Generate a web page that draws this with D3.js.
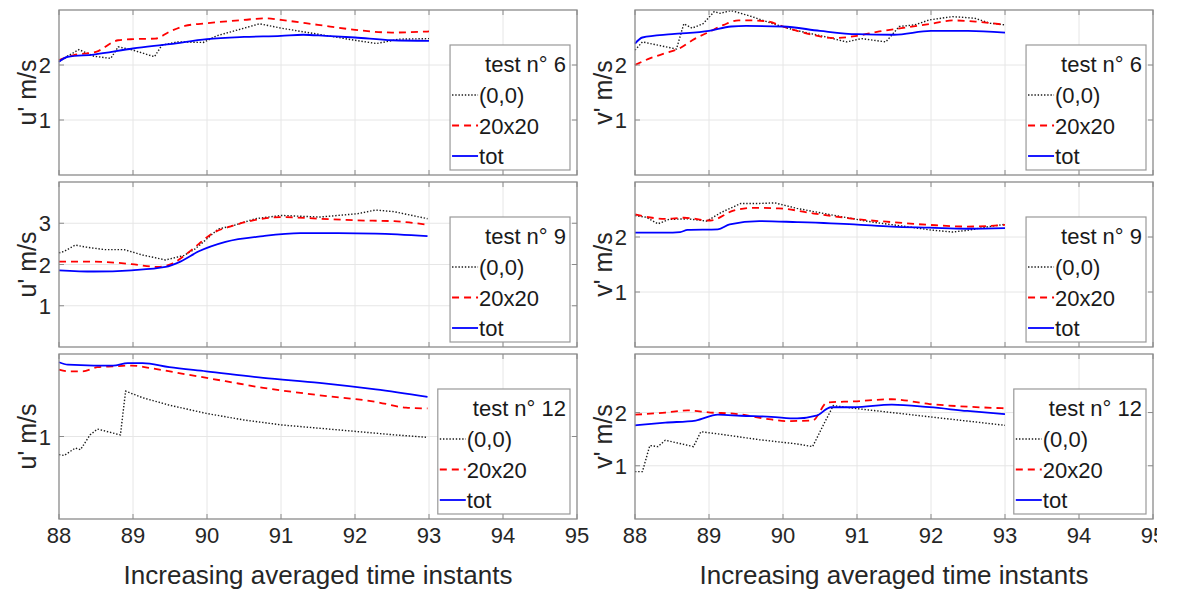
<!DOCTYPE html>
<html>
<head>
<meta charset="utf-8">
<script src="https://cdnjs.cloudflare.com/ajax/libs/d3/7.8.5/d3.min.js"></script>
<style>
    body { margin: 0; background: #fff; }
    svg { display: block; overflow: hidden; font-family: "Liberation Sans", Arial, Helvetica, sans-serif; }
</style>
</head>
<body>
<div id="chart"></div>
<script>
// ---- data: [time instant, value] ----

// test 6
const u6_00 = [[88,2.06],[88.1,2.15],[88.27,2.28],[88.47,2.16],[88.7,2.12],[88.8,2.33],[89,2.27],[89.29,2.15],[89.39,2.36],[89.6,2.42],[89.95,2.41],[90.13,2.53],[90.5,2.67],[90.71,2.75],[91,2.67],[91.5,2.56],[92,2.45],[92.29,2.39],[92.6,2.47],[93,2.48]];
const u6_20 = [[88,2.09],[88.2,2.18],[88.5,2.24],[88.8,2.45],[89,2.47],[89.3,2.48],[89.5,2.61],[89.7,2.71],[90,2.76],[90.5,2.82],[90.8,2.85],[91,2.82],[91.5,2.73],[92,2.64],[92.5,2.59],[93,2.61]];
const u6_tot = [[88,2.06],[88.12,2.15],[88.47,2.19],[89,2.30],[89.5,2.38],[90,2.47],[90.5,2.51],[91,2.53],[91.3,2.55],[91.6,2.53],[92,2.50],[92.5,2.45],[93,2.44]];

const v6_00 = [[88,2.27],[88.1,2.42],[88.56,2.29],[88.66,2.75],[88.77,2.67],[88.92,2.75],[89.07,2.97],[89.15,2.94],[89.3,2.99],[89.58,2.88],[89.84,2.76],[90.14,2.64],[90.55,2.52],[90.86,2.42],[91.06,2.48],[91.39,2.42],[91.57,2.70],[91.78,2.73],[91.98,2.82],[92.29,2.88],[92.59,2.85],[92.8,2.76],[93,2.73]];
const v6_20 = [[88,2.0],[88.2,2.12],[88.4,2.21],[88.6,2.30],[88.8,2.47],[89,2.60],[89.2,2.73],[89.4,2.81],[89.6,2.81],[89.8,2.79],[90,2.70],[90.3,2.58],[90.7,2.49],[91,2.53],[91.3,2.61],[91.6,2.67],[92,2.75],[92.3,2.81],[92.6,2.79],[93,2.73]];
const v6_tot = [[88,2.39],[88.1,2.50],[88.5,2.56],[89,2.62],[89.3,2.70],[89.5,2.71],[90,2.70],[90.5,2.62],[91,2.56],[91.5,2.55],[92,2.62],[92.5,2.62],[93,2.59]];

// test 9
const u9_00 = [[88,2.28],[88.07,2.32],[88.22,2.47],[88.37,2.42],[88.62,2.36],[88.88,2.36],[89.13,2.23],[89.44,2.11],[89.69,2.22],[89.84,2.38],[89.94,2.53],[90.15,2.86],[90.35,2.94],[90.65,3.11],[91.01,3.19],[91.52,3.15],[92.03,3.23],[92.28,3.32],[92.53,3.28],[92.98,3.11]];
const u9_20 = [[88,2.07],[88.47,2.07],[88.98,2.01],[89.34,1.94],[89.54,2.03],[89.74,2.28],[89.89,2.5],[90.05,2.73],[90.35,2.94],[90.76,3.11],[91.01,3.15],[91.52,3.11],[92.03,3.07],[92.53,3.05],[92.98,2.96]];
const u9_tot = [[88,1.86],[88.47,1.83],[88.98,1.86],[89.44,1.94],[89.64,2.07],[89.89,2.32],[90.25,2.55],[90.76,2.69],[91.26,2.76],[91.77,2.76],[92.28,2.75],[92.98,2.69]];

const v9_00 = [[88,2.39],[88.15,2.36],[88.31,2.24],[88.46,2.32],[88.71,2.33],[88.97,2.29],[89.17,2.45],[89.43,2.61],[89.68,2.61],[89.89,2.62],[90.19,2.52],[90.7,2.39],[91.21,2.27],[91.72,2.18],[91.98,2.13],[92.29,2.09],[92.49,2.12],[92.74,2.18],[93,2.23]];
const v9_20 = [[88,2.41],[88.41,2.33],[88.66,2.35],[89.02,2.30],[89.33,2.48],[89.58,2.53],[89.94,2.52],[90.45,2.42],[90.96,2.33],[91.47,2.27],[91.98,2.22],[92.49,2.19],[93,2.22]];
const v9_tot = [[88,2.08],[88.41,2.08],[88.61,2.09],[88.71,2.13],[89.12,2.14],[89.28,2.23],[89.68,2.29],[90.19,2.27],[90.96,2.23],[91.47,2.19],[91.98,2.17],[92.49,2.15],[93,2.16]];

// test 12
const u12_00 = [[88,0.78],[88.07,0.77],[88.22,0.86],[88.29,0.84],[88.42,1.02],[88.52,1.09],[88.78,1.03],[88.83,1.02],[88.9,1.55],[89.13,1.47],[89.49,1.38],[89.99,1.28],[90.5,1.20],[91.01,1.14],[91.52,1.10],[92.03,1.06],[92.53,1.02],[92.98,0.99]];
const u12_20 = [[88,1.81],[88.12,1.79],[88.32,1.79],[88.52,1.84],[88.73,1.85],[88.98,1.86],[89.23,1.83],[89.74,1.75],[90.25,1.67],[90.76,1.59],[91.52,1.50],[92.28,1.42],[92.69,1.35],[92.98,1.34]];
const u12_tot = [[88,1.90],[88.12,1.87],[88.47,1.86],[88.73,1.86],[88.93,1.89],[89.13,1.89],[89.49,1.84],[89.99,1.79],[90.76,1.71],[91.52,1.65],[92.28,1.57],[92.98,1.48]];

const v12_00 = [[88,0.89],[88.1,0.89],[88.2,1.38],[88.31,1.36],[88.41,1.48],[88.79,1.36],[88.89,1.64],[89.17,1.59],[89.68,1.49],[90.19,1.41],[90.4,1.36],[90.55,1.78],[90.68,2.13],[90.96,2.08],[91.47,2.0],[91.98,1.92],[92.49,1.84],[93,1.76]];
const v12_20 = [[88,1.96],[88.41,2.0],[88.71,2.04],[89.02,2.0],[89.33,1.98],[89.84,1.87],[90.04,1.84],[90.4,1.85],[90.6,2.19],[90.96,2.21],[91.47,2.25],[91.98,2.16],[92.49,2.11],[93,2.08]];
const v12_tot = [[88,1.76],[88.41,1.81],[88.82,1.85],[89.12,1.96],[89.43,1.94],[89.84,1.92],[90.19,1.89],[90.45,1.94],[90.65,2.10],[90.96,2.10],[91.47,2.15],[91.98,2.10],[92.49,2.03],[93,1.97]];

const xTicks = [88, 89, 90, 91, 92, 93, 94, 95];
const seriesNames = ["(0,0)", "20x20", "tot"];
const testTitles = ["test n\u00b0 6", "test n\u00b0 9", "test n\u00b0 12"];
const yLabels = ["u' m/s", "v' m/s"];
const xTitle = "Increasing averaged time instants";

// panel setup (row, col, y range, y ticks shown)
const panels = [
    {row: 0, col: 0, yMax: 3,   yTicks: [1, 2],    series: [u6_00, u6_20, u6_tot]},
    {row: 0, col: 1, yMax: 3,   yTicks: [1, 2],    series: [v6_00, v6_20, v6_tot]},
    {row: 1, col: 0, yMax: 4,   yTicks: [1, 2, 3], series: [u9_00, u9_20, u9_tot]},
    {row: 1, col: 1, yMax: 3,   yTicks: [1, 2],    series: [v9_00, v9_20, v9_tot]},
    {row: 2, col: 0, yMax: 2,   yTicks: [1],       series: [u12_00, u12_20, u12_tot]},
    {row: 2, col: 1, yMax: 3.1, yTicks: [1, 2],    series: [v12_00, v12_20, v12_tot]}
];

// line styles for (0,0), 20x20, tot
const styles = [
    {color: "#1a1a1a", width: 1.4, dash: "1.4,1.8"},
    {color: "#ff0000", width: 1.8, dash: "7,5"},
    {color: "#0000ff", width: 1.8, dash: null}
];

const W = 1157, H = 591;
const colX = [[59, 577], [635, 1153]];
const rowTop = [10, 182, 354];
const panelH = 165;
const axisColor = "#8a8a8a";

const svg = d3.select("#chart").append("svg")
    .attr("width", W)
    .attr("height", H);

panels.forEach(p => {
    let x0 = colX[p.col][0], x1 = colX[p.col][1];
    let top = rowTop[p.row], bottom = top + panelH;

    let x = d3.scaleLinear().domain([88, 95]).range([x0, x1]);
    let y = d3.scaleLinear().domain([0, p.yMax]).range([bottom, top]);

    let g = svg.append("g").attr("class", "panel");

    // grid
    g.append("g").selectAll("line")
        .data(xTicks.slice(1, -1))
        .join("line")
        .attr("x1", d => x(d)).attr("x2", d => x(d))
        .attr("y1", top).attr("y2", bottom)
        .attr("stroke", "#e6e6e6").attr("stroke-width", 1);
    g.append("g").selectAll("line")
        .data(p.yTicks)
        .join("line")
        .attr("x1", x0).attr("x2", x1)
        .attr("y1", d => y(d)).attr("y2", d => y(d))
        .attr("stroke", "#e6e6e6").attr("stroke-width", 1);

    // series
    p.series.forEach((s, i) => {
        let line = d3.line()
            .x(d => x(d[0]))
            .y(d => y(d[1]))
            .curve(i === 0 ? d3.curveLinear : d3.curveMonotoneX);
        g.append("path")
            .datum(s)
            .attr("d", line)
            .attr("fill", "none")
            .attr("stroke", styles[i].color)
            .attr("stroke-width", styles[i].width)
            .attr("stroke-dasharray", styles[i].dash);
    });

    // box
    g.append("rect")
        .attr("x", x0).attr("y", top)
        .attr("width", x1 - x0).attr("height", panelH)
        .attr("fill", "none")
        .attr("stroke", axisColor).attr("stroke-width", 1.3);

    // inward ticks on all four sides
    let tl = 5;
    xTicks.forEach(t => {
        g.append("line").attr("x1", x(t)).attr("x2", x(t)).attr("y1", bottom).attr("y2", bottom - tl)
            .attr("stroke", axisColor);
        g.append("line").attr("x1", x(t)).attr("x2", x(t)).attr("y1", top).attr("y2", top + tl)
            .attr("stroke", axisColor);
    });
    p.yTicks.forEach(t => {
        g.append("line").attr("x1", x0).attr("x2", x0 + tl).attr("y1", y(t)).attr("y2", y(t))
            .attr("stroke", axisColor);
        g.append("line").attr("x1", x1).attr("x2", x1 - tl).attr("y1", y(t)).attr("y2", y(t))
            .attr("stroke", axisColor);
    });

    // y tick labels
    g.append("g").selectAll("text")
        .data(p.yTicks)
        .join("text")
        .attr("x", x0 - 8)
        .attr("y", d => y(d) + 8)
        .attr("text-anchor", "end")
        .attr("font-size", 22)
        .attr("fill", "#262626")
        .text(d => d);

    // y label
    g.append("text")
        .attr("transform", `translate(${x0 - 23}, ${(top + bottom) / 2}) rotate(-90)`)
        .attr("text-anchor", "middle")
        .attr("font-size", 25)
        .attr("fill", "#262626")
        .text(yLabels[p.col]);

    // x tick labels + title on the bottom row
    if (p.row === 2) {
        g.append("g").selectAll("text")
            .data(xTicks)
            .join("text")
            .attr("x", d => x(d))
            .attr("y", bottom + 24)
            .attr("text-anchor", "middle")
            .attr("font-size", 22)
            .attr("fill", "#262626")
            .text(d => d);
        g.append("text")
            .attr("x", (x0 + x1) / 2)
            .attr("y", bottom + 65)
            .attr("text-anchor", "middle")
            .attr("font-size", 26)
            .attr("fill", "#262626")
            .text(xTitle);
    }

    // legend
    let lg = g.append("g");
    let boxRight = x1 - 7, boxTop = top + 35, boxH = 125;
    let title = lg.append("text")
        .attr("font-size", 22)
        .attr("fill", "#1a1a1a")
        .attr("text-anchor", "end")
        .text(testTitles[p.row]);
    let tw = title.node().getComputedTextLength();
    let boxLeft = boxRight - tw - 39;
    lg.insert("rect", "text")
        .attr("x", boxLeft).attr("y", boxTop)
        .attr("width", boxRight - boxLeft).attr("height", boxH)
        .attr("fill", "#fff")
        .attr("stroke", "#999").attr("stroke-width", 1.2);
    title.attr("x", boxRight - 4).attr("y", boxTop + 27);

    seriesNames.forEach((name, i) => {
        let cy = boxTop + 50 + i * 30.5;
        lg.append("line")
            .attr("x1", boxLeft + 2).attr("x2", boxLeft + 28)
            .attr("y1", cy).attr("y2", cy)
            .attr("stroke", styles[i].color)
            .attr("stroke-width", styles[i].width)
            .attr("stroke-dasharray", styles[i].dash);
        lg.append("text")
            .attr("x", boxLeft + 29)
            .attr("y", cy + 8)
            .attr("font-size", 22)
            .attr("fill", "#1a1a1a")
            .text(name);
    });
});
</script>
</body>
</html>
